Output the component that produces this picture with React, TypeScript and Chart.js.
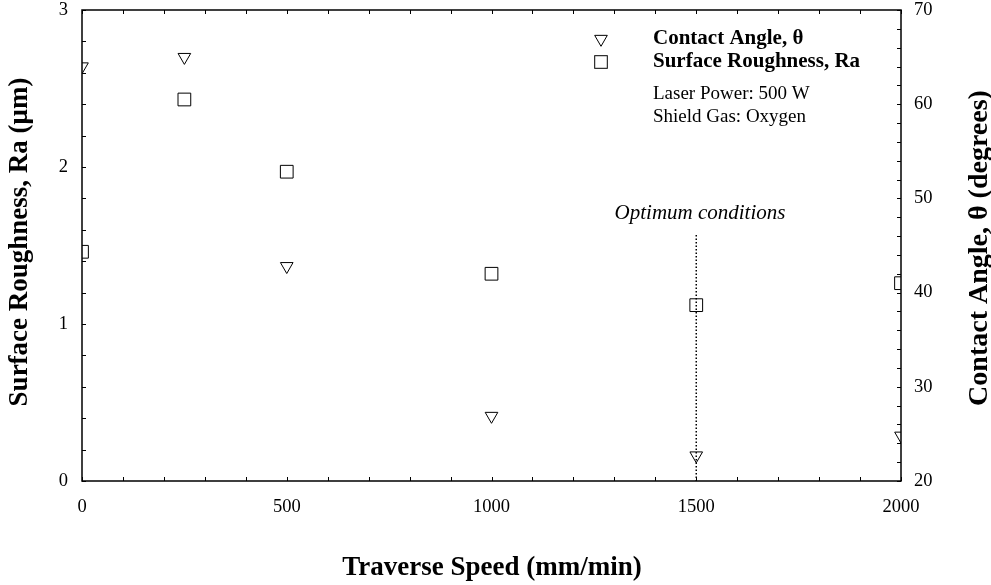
import React, { useEffect, useRef } from "react";
import { Chart, registerables } from "chart.js";

Chart.register(...registerables);

const speeds = [0, 250, 500, 1000, 1500, 2000];
const roughness = [1.46, 2.43, 1.97, 1.32, 1.12, 1.26];
const contactAngle = [64.0, 65.0, 42.8, 26.9, 22.7, 24.8];
const xTickLabels = [0, 500, 1000, 1500, 2000];
const leftTickLabels = [0, 1, 2, 3];
const rightTickLabels = [20, 30, 40, 50, 60, 70];
const optimumSpeed = 1500;

const SERIF = "'Liberation Serif', 'Times New Roman', serif";

const overlay = {
  id: "overlay",
  afterDatasetsDraw(chart: any) {
    const { ctx, chartArea: a, scales } = chart;
    const x = scales.x, yl = scales.yL, yr = scales.yR;
    ctx.save();
    ctx.strokeStyle = "#000";
    ctx.lineWidth = 1.5;
    ctx.beginPath();
    ctx.rect(a.left, a.top, a.right - a.left, a.bottom - a.top);
    ctx.stroke();
    ctx.lineWidth = 1;
    const T = 4;
    ctx.beginPath();
    for (let v = 0; v <= 2000; v += 100) {
      const px = Math.round(x.getPixelForValue(v)) + 0.5;
      ctx.moveTo(px, a.bottom); ctx.lineTo(px, a.bottom - T);
      ctx.moveTo(px, a.top); ctx.lineTo(px, a.top + T);
    }
    for (let i = 0; i <= 15; i++) {
      const v = i * 0.2;
      const py = Math.round(yl.getPixelForValue(v)) + 0.5;
      ctx.moveTo(a.left, py); ctx.lineTo(a.left + T, py);
    }
    for (let v = 20; v <= 70; v += 2) {
      const py = Math.round(yr.getPixelForValue(v)) + 0.5;
      ctx.moveTo(a.right, py); ctx.lineTo(a.right - T, py);
    }
    ctx.stroke();

    // optimum line
    const ox = x.getPixelForValue(optimumSpeed);
    ctx.setLineDash([1.5, 2]);
    ctx.lineWidth = 1.5;
    ctx.beginPath();
    ctx.moveTo(ox, 235);
    ctx.lineTo(ox, a.bottom);
    ctx.stroke();
    ctx.setLineDash([]);

    ctx.fillStyle = "#000";
    ctx.font = `italic 21px ${SERIF}`;
    ctx.textAlign = "center";
    ctx.textBaseline = "middle";
    ctx.fillText("Optimum conditions", 700, 213);

    // legend
    ctx.lineWidth = 1;
    const tx = 601, ty = 39, r = 7.3;
    ctx.beginPath();
    for (let k = 0; k < 3; k++) {
      const ang = Math.PI + (k * 2 * Math.PI) / 3;
      const px = tx + Math.sin(ang) * r, py = ty - Math.cos(ang) * r;
      if (k === 0) ctx.moveTo(px, py); else ctx.lineTo(px, py);
    }
    ctx.closePath();
    ctx.stroke();
    ctx.strokeRect(601 - 6.3, 62 - 6.3, 12.6, 12.6);

    ctx.textAlign = "left";
    ctx.font = `bold 21px ${SERIF}`;
    ctx.fillText("Contact Angle, θ", 653, 39);
    ctx.fillText("Surface Roughness, Ra", 653, 62);
    ctx.font = `19px ${SERIF}`;
    ctx.fillText("Laser Power: 500 W", 653, 94);
    ctx.fillText("Shield Gas: Oxygen", 653, 117);

    // axis titles
    ctx.font = `bold 27px ${SERIF}`;
    ctx.textAlign = "center";
    ctx.fillText("Traverse Speed (mm/min)", 492, 568);
    ctx.save();
    ctx.translate(20, 242);
    ctx.rotate(-Math.PI / 2);
    ctx.fillText("Surface Roughness, Ra (μm)", 0, 0);
    ctx.restore();
    ctx.save();
    ctx.font = `bold 28px ${SERIF}`;
    ctx.translate(980, 248);
    ctx.rotate(-Math.PI / 2);
    ctx.fillText("Contact Angle, θ (degrees)", 0, 0);
    ctx.restore();
    ctx.restore();
  },
};

export default function App() {
  const ref = useRef<HTMLCanvasElement | null>(null);
  useEffect(() => {
    document.body.style.margin = "0";
    const fixPad = (s: any) => { s.paddingTop = 0; s.paddingBottom = 0; s.paddingLeft = 0; s.paddingRight = 0; };
    const tickFont = { family: SERIF, size: 18.5, lineHeight: 1 };
    const plain = (v: any) => String(v);
    const chart = new Chart(ref.current!, {
      type: "scatter",
      data: {
        datasets: [
          {
            label: "Contact Angle, θ",
            data: speeds.map((s, i) => ({ x: s, y: contactAngle[i] })),
            yAxisID: "yR",
            pointStyle: "triangle",
            rotation: 180,
            pointRadius: 7.3,
            borderColor: "#000",
            backgroundColor: "rgba(0,0,0,0)",
            borderWidth: 1,
            clip: 0,
          } as any,
          {
            label: "Surface Roughness, Ra",
            data: speeds.map((s, i) => ({ x: s, y: roughness[i] })),
            yAxisID: "yL",
            pointStyle: "rect",
            pointRadius: 9,
            borderColor: "#000",
            backgroundColor: "rgba(0,0,0,0)",
            borderWidth: 1,
            clip: 0,
          } as any,
        ],
      },
      options: {
        animation: false,
        responsive: false,
        events: [],
        layout: { padding: { top: 8, left: 0, right: 0, bottom: 0 } },
        plugins: { legend: { display: false }, tooltip: { enabled: false } },
        scales: {
          x: {
            type: "linear",
            min: 0,
            max: 2000,
            afterBuildTicks: (s: any) => { s.ticks = xTickLabels.map((v) => ({ value: v })); },
            ticks: { color: "#000", font: tickFont, padding: 9, maxRotation: 0, callback: plain },
            grid: { display: false },
            border: { display: false },
            afterFit: (s: any) => { s.height = 104; fixPad(s); },
          },
          yL: {
            type: "linear",
            position: "left",
            min: 0,
            max: 3,
            afterBuildTicks: (s: any) => { s.ticks = leftTickLabels.map((v) => ({ value: v })); },
            ticks: { color: "#000", font: tickFont, padding: 6, callback: plain },
            grid: { display: false },
            border: { display: false },
            afterFit: (s: any) => { s.width = 82; fixPad(s); },
          },
          yR: {
            type: "linear",
            position: "right",
            min: 20,
            max: 70,
            afterBuildTicks: (s: any) => { s.ticks = rightTickLabels.map((v) => ({ value: v })); },
            ticks: { color: "#000", font: tickFont, padding: 5, callback: plain },
            grid: { display: false },
            border: { display: false },
            afterFit: (s: any) => { s.width = 90; fixPad(s); },
          },
        },
      } as any,
      plugins: [overlay],
    });
    return () => chart.destroy();
  }, []);
  return (
    <div style={{ width: 991, height: 585, background: "#fff" }}>
      <canvas ref={ref} width={991} height={585} style={{ display: "block" }} />
    </div>
  );
}
